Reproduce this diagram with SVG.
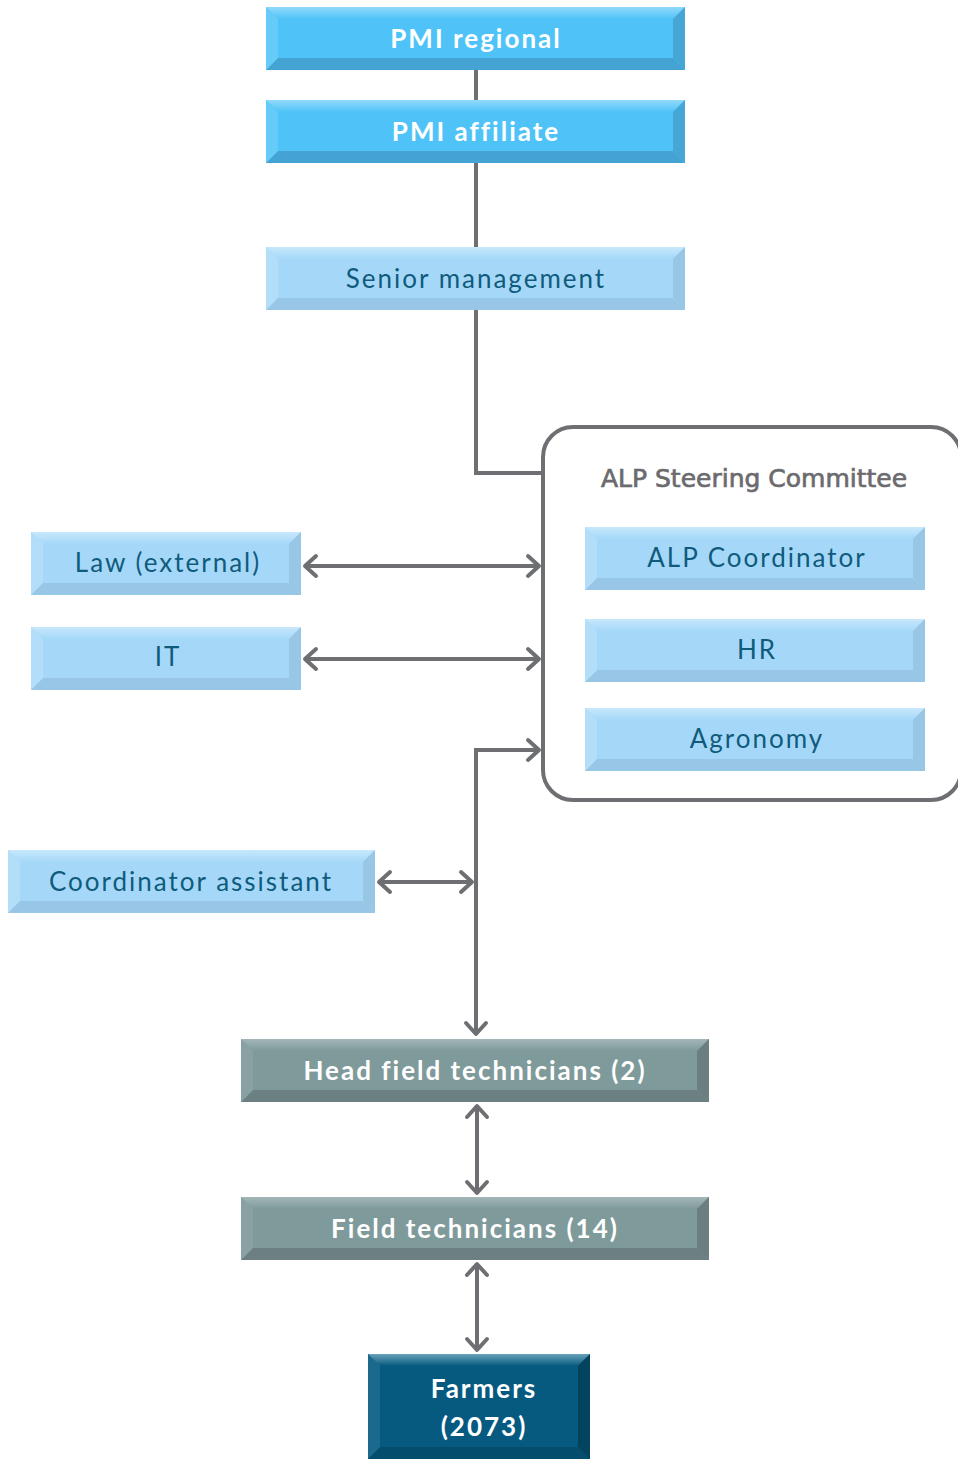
<svg xmlns="http://www.w3.org/2000/svg" width="958" height="1459" viewBox="0 0 958 1459">
<defs>
<style>
.ln{fill:none;stroke:#6e6f72;stroke-width:4}
.t{font-family:Lato,"Liberation Sans",sans-serif;font-size:26px;text-anchor:middle;letter-spacing:2px}
.tw{fill:#ffffff;font-weight:bold}
.td{fill:#105b7c}
.b1m{fill:#4fc3f7}.b1t{fill:url(#g1t)}.b1b{fill:#44a3d2}.b1r{fill:#46a7d6}.b1l{fill:#74d0f9}
.b2m{fill:#a5d8f8}.b2t{fill:url(#g2t)}.b2b{fill:#97c6e6}.b2r{fill:#98c6e5}.b2l{fill:#bde2fa}
.b3m{fill:#7f9a9a}.b3t{fill:url(#g3t)}.b3b{fill:#6c8081}.b3r{fill:#6b7f80}.b3l{fill:#8fa7a8}
.b4m{fill:#065a7f}.b4t{fill:url(#g4t)}.b4b{fill:#054d6c}.b4r{fill:#04435e}.b4l{fill:#2a7396}
</style>
<linearGradient id="g1t" x1="0" y1="0" x2="0" y2="1"><stop offset="0" stop-color="#93d9fb"/><stop offset="1" stop-color="#4fc3f7"/></linearGradient>
<linearGradient id="g2t" x1="0" y1="0" x2="0" y2="1"><stop offset="0" stop-color="#c8e8fc"/><stop offset="1" stop-color="#a5d8f8"/></linearGradient>
<linearGradient id="g3t" x1="0" y1="0" x2="0" y2="1"><stop offset="0" stop-color="#a3b6b8"/><stop offset="1" stop-color="#7f9a9a"/></linearGradient>
<linearGradient id="g4t" x1="0" y1="0" x2="0" y2="1"><stop offset="0" stop-color="#6aa2bb"/><stop offset="1" stop-color="#065a7f"/></linearGradient>
<marker id="ah" markerUnits="userSpaceOnUse" viewBox="-14 -13 18 26" markerWidth="18" markerHeight="26" refX="0" refY="0" orient="auto-start-reverse">
<path d="M-11,-10 L0,0 L-11,10" fill="none" stroke="#6e6f72" stroke-width="4" stroke-linecap="round" stroke-linejoin="round"/>
</marker>
</defs>

<g id="connectors">
<path class="ln" d="M476,70 V100"/>
<path class="ln" d="M476,163 V247"/>
<path class="ln" d="M476,310 V473 H543"/>
<path class="ln" d="M305,566 H539" marker-start="url(#ah)" marker-end="url(#ah)"/>
<path class="ln" d="M305,659 H539" marker-start="url(#ah)" marker-end="url(#ah)"/>
<path class="ln" d="M476,1034 V750 H539" marker-start="url(#ah)" marker-end="url(#ah)"/>
<path class="ln" d="M379,882 H472" marker-start="url(#ah)" marker-end="url(#ah)"/>
<path class="ln" d="M477,1106 V1193" marker-start="url(#ah)" marker-end="url(#ah)"/>
<path class="ln" d="M477,1264 V1350" marker-start="url(#ah)" marker-end="url(#ah)"/>
</g>

<g id="pmi-regional">
<rect class="b1m" x="266" y="7" width="419" height="63"/>
<polygon class="b1t" points="266,7 685,7 673,19 278,19"/>
<polygon class="b1b" points="266,70 685,70 673,58 278,58"/>
<polygon class="b1l" points="266,7 278,19 278,58 266,70" opacity="0.6"/>
<polygon class="b1r" points="685,7 673,19 673,58 685,70"/>
<text class="t tw" x="476" y="48">PMI regional</text>
</g>

<g id="pmi-affiliate">
<rect class="b1m" x="266" y="100" width="419" height="63"/>
<polygon class="b1t" points="266,100 685,100 673,112 278,112"/>
<polygon class="b1b" points="266,163 685,163 673,151 278,151"/>
<polygon class="b1l" points="266,100 278,112 278,151 266,163" opacity="0.6"/>
<polygon class="b1r" points="685,100 673,112 673,151 685,163"/>
<text class="t tw" x="476" y="141">PMI affiliate</text>
</g>

<g id="senior-management">
<rect class="b2m" x="266" y="247" width="419" height="63"/>
<polygon class="b2t" points="266,247 685,247 673,259 278,259"/>
<polygon class="b2b" points="266,310 685,310 673,298 278,298"/>
<polygon class="b2l" points="266,247 278,259 278,298 266,310" opacity="0.6"/>
<polygon class="b2r" points="685,247 673,259 673,298 685,310"/>
<text class="t td" x="476" y="288">Senior management</text>
</g>

<g id="steering-committee">
<rect x="543" y="427" width="418" height="373" rx="30" ry="30" fill="#ffffff" stroke="#6e6f72" stroke-width="4"/>
<text x="754" y="487" font-family="'DejaVu Sans',sans-serif" font-size="25" fill="#6b6b6e" stroke="#6b6b6e" stroke-width="0.7" text-anchor="middle">ALP Steering Committee</text>
</g>

<g id="alp-coordinator">
<rect class="b2m" x="585" y="527" width="340" height="63"/>
<polygon class="b2t" points="585,527 925,527 913,539 597,539"/>
<polygon class="b2b" points="585,590 925,590 913,578 597,578"/>
<polygon class="b2l" points="585,527 597,539 597,578 585,590" opacity="0.6"/>
<polygon class="b2r" points="925,527 913,539 913,578 925,590"/>
<text class="t td" x="757" y="567">ALP Coordinator</text>
</g>

<g id="hr">
<rect class="b2m" x="585" y="619" width="340" height="63"/>
<polygon class="b2t" points="585,619 925,619 913,631 597,631"/>
<polygon class="b2b" points="585,682 925,682 913,670 597,670"/>
<polygon class="b2l" points="585,619 597,631 597,670 585,682" opacity="0.6"/>
<polygon class="b2r" points="925,619 913,631 913,670 925,682"/>
<text class="t td" x="757" y="659">HR</text>
</g>

<g id="agronomy">
<rect class="b2m" x="585" y="708" width="340" height="63"/>
<polygon class="b2t" points="585,708 925,708 913,720 597,720"/>
<polygon class="b2b" points="585,771 925,771 913,759 597,759"/>
<polygon class="b2l" points="585,708 597,720 597,759 585,771" opacity="0.6"/>
<polygon class="b2r" points="925,708 913,720 913,759 925,771"/>
<text class="t td" x="757" y="748">Agronomy</text>
</g>

<g id="law">
<rect class="b2m" x="31" y="532" width="270" height="63"/>
<polygon class="b2t" points="31,532 301,532 289,544 43,544"/>
<polygon class="b2b" points="31,595 301,595 289,583 43,583"/>
<polygon class="b2l" points="31,532 43,544 43,583 31,595" opacity="0.6"/>
<polygon class="b2r" points="301,532 289,544 289,583 301,595"/>
<text class="t td" x="168" y="572">Law (external)</text>
</g>

<g id="it">
<rect class="b2m" x="31" y="627" width="270" height="63"/>
<polygon class="b2t" points="31,627 301,627 289,639 43,639"/>
<polygon class="b2b" points="31,690 301,690 289,678 43,678"/>
<polygon class="b2l" points="31,627 43,639 43,678 31,690" opacity="0.6"/>
<polygon class="b2r" points="301,627 289,639 289,678 301,690"/>
<text class="t td" x="168" y="666">IT</text>
</g>

<g id="coordinator-assistant">
<rect class="b2m" x="8" y="850" width="367" height="63"/>
<polygon class="b2t" points="8,850 375,850 363,862 20,862"/>
<polygon class="b2b" points="8,913 375,913 363,901 20,901"/>
<polygon class="b2l" points="8,850 20,862 20,901 8,913" opacity="0.6"/>
<polygon class="b2r" points="375,850 363,862 363,901 375,913"/>
<text class="t td" x="191" y="891">Coordinator assistant</text>
</g>

<g id="head-field-technicians">
<rect class="b3m" x="241" y="1039" width="468" height="63"/>
<polygon class="b3t" points="241,1039 709,1039 697,1051 253,1051"/>
<polygon class="b3b" points="241,1102 709,1102 697,1090 253,1090"/>
<polygon class="b3l" points="241,1039 253,1051 253,1090 241,1102" opacity="0.6"/>
<polygon class="b3r" points="709,1039 697,1051 697,1090 709,1102"/>
<text class="t tw" x="475" y="1080">Head field technicians (2)</text>
</g>

<g id="field-technicians">
<rect class="b3m" x="241" y="1197" width="468" height="63"/>
<polygon class="b3t" points="241,1197 709,1197 697,1209 253,1209"/>
<polygon class="b3b" points="241,1260 709,1260 697,1248 253,1248"/>
<polygon class="b3l" points="241,1197 253,1209 253,1248 241,1260" opacity="0.6"/>
<polygon class="b3r" points="709,1197 697,1209 697,1248 709,1260"/>
<text class="t tw" x="475" y="1238">Field technicians (14)</text>
</g>

<g id="farmers">
<rect class="b4m" x="368" y="1354" width="222" height="105"/>
<polygon class="b4t" points="368,1354 590,1354 578,1366 380,1366"/>
<polygon class="b4b" points="368,1459 590,1459 578,1447 380,1447"/>
<polygon class="b4l" points="368,1354 380,1366 380,1447 368,1459" opacity="0.6"/>
<polygon class="b4r" points="590,1354 578,1366 578,1447 590,1459"/>
<text class="t tw" x="484" y="1398">Farmers</text>
<text class="t tw" x="484" y="1436">(2073)</text>
</g>
</svg>
